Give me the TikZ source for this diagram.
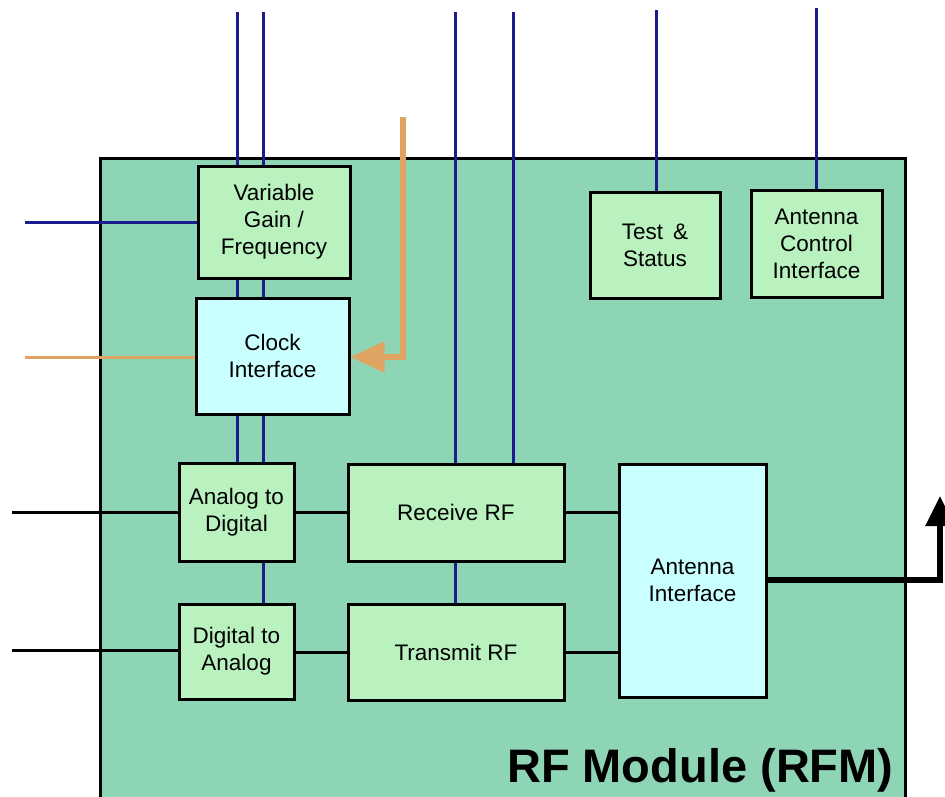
\documentclass[tikz,border=0pt]{standalone}
\usepackage{fontspec}
\setmainfont{Liberation Sans}
\usetikzlibrary{arrows.meta}
\definecolor{modfill}{HTML}{8ED5B6}
\definecolor{blkfill}{HTML}{B9F2BF}
\definecolor{ifcfill}{HTML}{C9FFFF}
\definecolor{busblue}{HTML}{1C1C8E}
\definecolor{clkorange}{HTML}{E0A462}
\tikzset{
  blk/.style={draw=black, line width=3pt, fill=blkfill, align=center, inner sep=0pt,
    font=\fontsize{22.5}{27}\selectfont},
  ifc/.style={blk, fill=ifcfill},
  bus/.style={draw=busblue, line width=3pt},
  sig/.style={draw=black, line width=3pt}
}
\begin{document}
\begin{tikzpicture}[x=1pt, y=-1pt]
    \useasboundingbox (0,0) rectangle (945,796);
    % module outline
    \draw [line width=3pt, fill=modfill] (100,158) rectangle (905,830);
    \node (title) [anchor=base east, font=\fontsize{47}{50}\selectfont\bfseries] at (897,782) {RF Module (RFM)};
    % blocks
    \node (vgf) [blk, minimum width=152pt, minimum height=112pt] at (274,222) {Variable\\Gain /\\Frequency};
    \node (clk) [ifc, minimum width=153pt, minimum height=116pt] at (272.5,356) {Clock\\Interface};
    \node (tst) [blk, minimum width=130pt, minimum height=106pt] at (655,245) {Test \,\&\\Status};
    \node (aci) [blk, minimum width=131pt, minimum height=107pt] at (816.5,243.5) {Antenna\\Control\\Interface};
    \node (adc) [blk, minimum width=115pt, minimum height=98pt] at (236.5,512) {Analog to\\Digital};
    \node (dac) [blk, minimum width=115pt, minimum height=95pt] at (236.5,651.5) {Digital to\\Analog};
    \node (rx) [blk, minimum width=216pt, minimum height=97pt] at (456,512.5) {Receive RF};
    \node (tx) [blk, minimum width=216pt, minimum height=96pt] at (456,652) {Transmit RF};
    \node (ant) [ifc, minimum width=147pt, minimum height=233pt] at (692.5,580.5) {Antenna\\Interface};
    % free ends
    \coordinate (b1) at (237,12);
    \coordinate (b2) at (263,12);
    \coordinate (b3) at (455,12);
    \coordinate (b4) at (513,12);
    \coordinate (b5) at (656,10);
    \coordinate (b6) at (816,8);
    \coordinate (vin) at (25,222);
    \coordinate (cin) at (25,357);
    \coordinate (cref) at (403,117);
    \coordinate (ain) at (12,512);
    \coordinate (aout) at (12,650);
    \coordinate (rfo) at (940,580);
    % buses
    \draw [bus] (b1) -- (b1 |- vgf.north);
    \draw [bus] (b2) -- (b2 |- vgf.north);
    \draw [bus] (b1 |- vgf.south) -- (b1 |- clk.north);
    \draw [bus] (b2 |- vgf.south) -- (b2 |- clk.north);
    \draw [bus] (b1 |- clk.south) -- (b1 |- adc.north);
    \draw [bus] (b2 |- clk.south) -- (b2 |- adc.north);
    \draw [bus] (b2 |- adc.south) -- (b2 |- dac.north);
    \draw [bus] (vin) -- (vin -| vgf.west);
    \draw [bus] (b3) -- (b3 |- rx.north);
    \draw [bus] (b4) -- (b4 |- rx.north);
    \draw [bus] (rx.south -| b3) -- (tx.north -| b3);
    \draw [bus] (b5) -- (b5 |- tst.north);
    \draw [bus] (b6) -- (b6 |- aci.north);
    % clock
    \draw [clkorange, line width=3pt] (cin) -- (cin -| clk.west);
    \draw [clkorange, line width=6pt, -{Triangle[length=34pt, width=30pt]}] (cref) |- (clk.east |- cin);
    % signals
    \draw [sig] (ain) -- (adc.west |- ain);
    \draw [sig] (aout) -- (dac.west |- aout);
    \draw [sig] (adc.east |- rx.west) -- (rx.west);
    \draw [sig] (dac.east |- tx.west) -- (tx.west);
    \draw [sig] (rx.east) -- (rx.east -| ant.west);
    \draw [sig] (tx.east) -- (tx.east -| ant.west);
    \draw [line width=6pt, -{Triangle[length=30pt, width=28pt]}] (ant.east |- rfo) -- (rfo) -- ++(0,-84);
\end{tikzpicture}
\end{document}
